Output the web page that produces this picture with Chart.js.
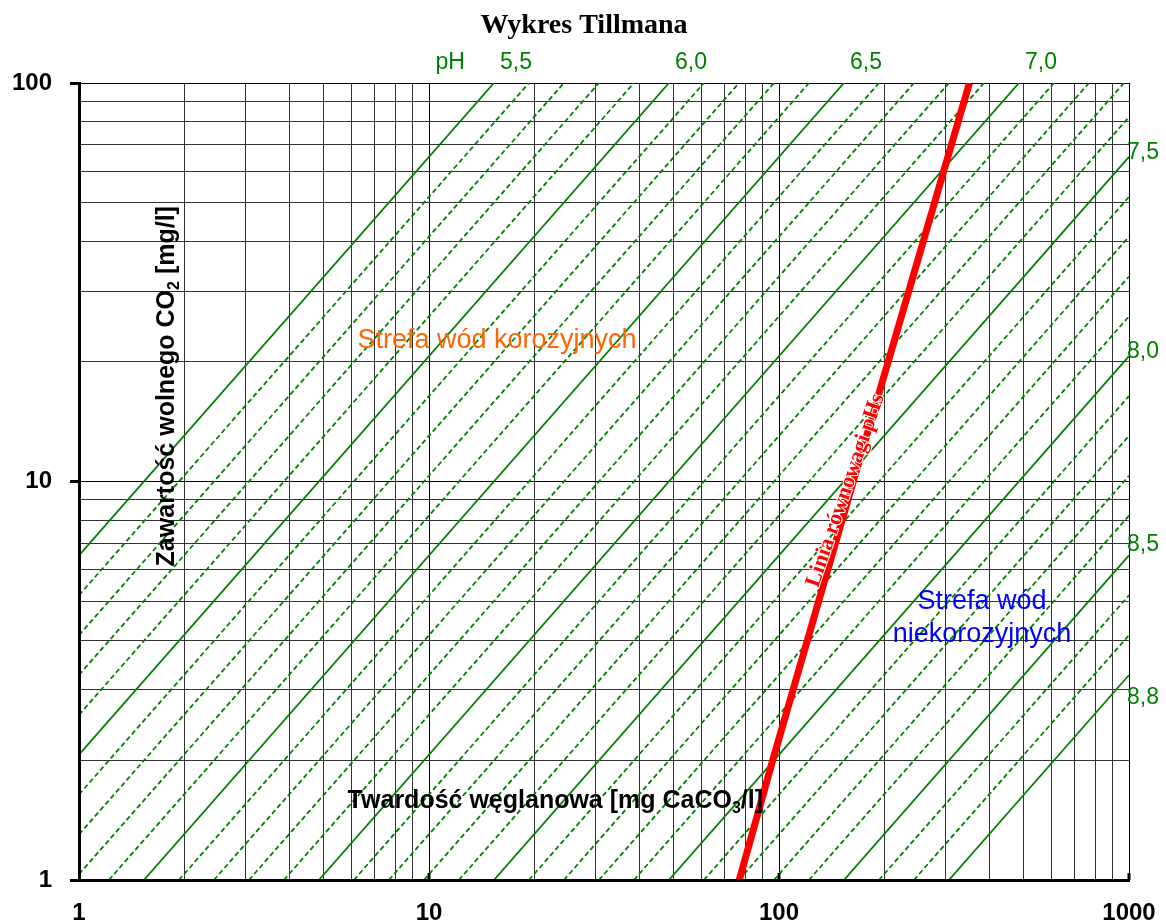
<!DOCTYPE html>
<html>
<head>
<meta charset="utf-8">
<script src="https://cdn.jsdelivr.net/npm/chart.js@4.4.1/dist/chart.umd.min.js"></script>
<style>
  html, body { margin: 0; padding: 0; background: #fff; }
  #wrap { width: 1166px; height: 921px; }
</style>
</head>
<body>
<div id="wrap"><canvas id="chart" width="1166" height="921"></canvas></div>
<script>
// Tillmans diagram: free CO2 against carbonate hardness on log-log axes.

// Axis ranges
const X_RANGE = [1, 1000];   // carbonate hardness, mg CaCO3/l
const Y_RANGE = [1, 100];    // free CO2, mg/l

// Grid lines and tick labels
const X_GRID = [1, 2, 3, 4, 5, 6, 7, 8, 9, 10, 20, 30, 40, 50, 60, 70, 80, 90,
                100, 200, 300, 400, 500, 600, 700, 800, 900, 1000];
const Y_GRID = [1, 2, 3, 4, 5, 6, 7, 8, 9, 10, 20, 30, 40, 50, 60, 70, 80, 90, 100];
const X_TICK_LABELS = ['1', '10', '100', '1000'];
const Y_TICK_LABELS = ['1', '10', '100'];

// pH isolines, every 0.1 pH unit; the labelled ones are drawn solid
const PH_VALUES = [5.5, 5.6, 5.7, 5.8, 5.9, 6.0, 6.1, 6.2, 6.3, 6.4,
                   6.5, 6.6, 6.7, 6.8, 6.9, 7.0, 7.1, 7.2, 7.3, 7.4,
                   7.5, 7.6, 7.7, 7.8, 7.9, 8.0, 8.1, 8.2, 8.3, 8.4,
                   8.5, 8.6, 8.7, 8.8];
const PH_SOLID = [5.5, 6.0, 6.5, 7.0, 7.5, 8.0, 8.5, 8.8];
const PH_TOP_LABELS = ['5,5', '6,0', '6,5', '7,0'];
const PH_RIGHT_LABELS = ['7,5', '8,0', '8,5', '8,8'];

// Carbonic acid: pH = pK1 + log([HCO3-]/[CO2]); hardness as CaCO3 (50 mg/mmol HCO3-), CO2 44 mg/mmol
const PK1 = 6.37;
const UNIT_FACTOR = 44 / 50;

// Lime-carbonic acid equilibrium line (pHs)
const EQ_HARDNESS = [77, 96, 163, 350];
const EQ_CO2 = [1, 2, 10, 100];

// Text annotations, anchored in data coordinates
const TITLE = 'Wykres Tillmana';
const NOTES = [
  { lines: ['Strefa wód korozyjnych'], x: 15.64, y: 22.6, color: '#FF6600' },
  { lines: ['Strefa wód', 'niekorozyjnych'], x: 380, y: 4.55, color: '#0000FF' }
];
const X_TITLE = [{ t: 'Twardość węglanowa [mg CaCO' }, { t: '3', sub: true }, { t: '/l]' }];
const Y_TITLE = [{ t: 'Zawartość wolnego CO' }, { t: '2', sub: true }, { t: ' [mg/l]' }];
const EQ_LABEL = 'Linia równowagi pHs';

const SANS = '"Liberation Sans", Arial, sans-serif';
const SERIF = '"Liberation Serif", "Times New Roman", serif';
const GREEN = '#008000';

const isDecade = v => Math.abs(Math.log10(v) - Math.round(Math.log10(v))) < 1e-9;

// one straight segment per pH value, clipped to the axis ranges
function isoline(pH) {
  const c = Math.log10(UNIT_FACTOR) + PK1 - pH;   // log CO2 = log H + c
  const lx0 = Math.max(Math.log10(X_RANGE[0]), Math.log10(Y_RANGE[0]) - c);
  const lx1 = Math.min(Math.log10(X_RANGE[1]), Math.log10(Y_RANGE[1]) - c);
  return [
    { x: Math.pow(10, lx0), y: Math.pow(10, lx0 + c) },
    { x: Math.pow(10, lx1), y: Math.pow(10, lx1 + c) }
  ];
}

const datasets = [{
  label: 'pHs',
  data: EQ_HARDNESS.map((h, i) => ({ x: h, y: EQ_CO2[i] })),
  borderColor: '#FF0000',
  borderWidth: 7,
  showLine: true,
  pointRadius: 0
}];
PH_VALUES.forEach(pH => {
  const solid = PH_SOLID.some(s => Math.abs(s - pH) < 1e-9);
  datasets.push({
    label: 'pH ' + pH.toFixed(1),
    data: isoline(pH),
    borderColor: GREEN,
    borderWidth: 1.8,
    borderDash: solid ? [] : [5, 3],
    showLine: true,
    pointRadius: 0
  });
});

// text with subscripts, centred at (x, y)
function drawRich(ctx, parts, x, y, size, bold, color) {
  const w = bold ? 'bold ' : '';
  const fMain = w + size + 'px ' + SANS;
  const fSub = w + Math.round(size * 0.65) + 'px ' + SANS;
  let total = 0;
  parts.forEach(p => { ctx.font = p.sub ? fSub : fMain; total += ctx.measureText(p.t).width; });
  let cx = x - total / 2;
  ctx.fillStyle = color;
  ctx.textAlign = 'left';
  ctx.textBaseline = 'middle';
  parts.forEach(p => {
    ctx.font = p.sub ? fSub : fMain;
    ctx.fillText(p.t, cx, p.sub ? y + size * 0.3 : y);
    cx += ctx.measureText(p.t).width;
  });
}

const annotations = {
  id: 'annotations',
  afterDraw(chart) {
    const { ctx, scales: { x: xs, y: ys }, chartArea: area } = chart;
    ctx.save();

    // inward tick marks on the hardness axis
    ctx.strokeStyle = '#000';
    ctx.lineWidth = 3;
    X_TICK_LABELS.slice(1).forEach(l => {
      const px = xs.getPixelForValue(Number(l));
      ctx.beginPath();
      ctx.moveTo(px, area.bottom);
      ctx.lineTo(px, area.bottom - 7);
      ctx.stroke();
    });

    // title
    ctx.fillStyle = '#000';
    ctx.font = 'bold 28px ' + SERIF;
    ctx.textAlign = 'center';
    ctx.textBaseline = 'middle';
    ctx.fillText(TITLE, 584, 26);

    // pH labels along the top edge, just right of where each line leaves
    ctx.fillStyle = GREEN;
    ctx.font = '23px ' + SANS;
    const topY = ys.getPixelForValue(112.5);
    ctx.fillText('pH', xs.getPixelForValue(11.5), topY);
    PH_TOP_LABELS.forEach(l => {
      const pH = parseFloat(l.replace(',', '.'));
      const seg = isoline(pH);
      ctx.fillText(l, xs.getPixelForValue(seg[1].x) + 22, topY);
    });

    // pH labels on the right edge
    ctx.textAlign = 'left';
    const rightY = [66.9, 21.2, 6.94, 2.86];
    PH_RIGHT_LABELS.forEach((l, i) => {
      ctx.fillText(l, area.right - 2, ys.getPixelForValue(rightY[i]));
    });

    // zone notes
    ctx.font = '27px ' + SANS;
    ctx.textAlign = 'center';
    NOTES.forEach(n => {
      ctx.fillStyle = n.color;
      const px = xs.getPixelForValue(n.x), py = ys.getPixelForValue(n.y);
      const lh = 33;
      n.lines.forEach((t, i) => {
        ctx.fillText(t, px, py + (i - (n.lines.length - 1) / 2) * lh);
      });
    });

    // axis titles inside the plot
    drawRich(ctx, X_TITLE, xs.getPixelForValue(22.96), ys.getPixelForValue(1.579), 25, true, '#000');
    ctx.save();
    ctx.translate(xs.getPixelForValue(1.78), ys.getPixelForValue(17.34));
    ctx.rotate(-Math.PI / 2);
    drawRich(ctx, Y_TITLE, 0, 0, 25, true, '#000');
    ctx.restore();

    // equilibrium line label
    ctx.save();
    ctx.translate(xs.getPixelForValue(155), ys.getPixelForValue(9.5));
    ctx.rotate(-71 * Math.PI / 180);
    ctx.font = 'bold 22px ' + SERIF;
    ctx.textAlign = 'center';
    ctx.textBaseline = 'middle';
    ctx.lineJoin = 'round';
    ctx.strokeStyle = '#fff';
    ctx.lineWidth = 2;
    ctx.strokeText(EQ_LABEL, 0, 0);
    ctx.fillStyle = '#FF0000';
    ctx.fillText(EQ_LABEL, 0, 0);
    ctx.restore();

    ctx.restore();
  }
};

const gridColor = c => (c.tick && isDecade(c.tick.value)) ? '#000' : '#333';

new Chart(document.getElementById('chart'), {
  type: 'scatter',
  data: { datasets },
  options: {
    responsive: false,
    animation: false,
    events: [],
    layout: { padding: { top: 83, right: 37, left: 0, bottom: 0 } },
    plugins: { legend: { display: false }, tooltip: { enabled: false }, title: { display: false } },
    scales: {
      x: {
        type: 'logarithmic',
        position: 'bottom',
        min: X_RANGE[0],
        max: X_RANGE[1],
        afterBuildTicks: s => { s.ticks = X_GRID.map(v => ({ value: v })); },
        afterFit: s => { s.height = 41; s.paddingLeft = 0; s.paddingRight = 0; },
        ticks: {
          autoSkip: false,
          maxRotation: 0,
          padding: 19,
          color: '#000',
          font: { family: SANS, size: 24, weight: 'bold' },
          callback: v => X_TICK_LABELS.includes(String(v)) ? String(v) : ''
        },
        grid: { color: gridColor, lineWidth: 1, drawTicks: false },
        border: { display: true, color: '#000', width: 3, z: 1 }
      },
      y: {
        type: 'logarithmic',
        position: 'left',
        min: Y_RANGE[0],
        max: Y_RANGE[1],
        afterBuildTicks: s => { s.ticks = Y_GRID.map(v => ({ value: v })); },
        afterFit: s => { s.width = 79; s.paddingTop = 0; s.paddingBottom = 0; },
        ticks: {
          autoSkip: false,
          padding: 18,
          color: '#000',
          font: { family: SANS, size: 24, weight: 'bold' },
          callback: v => Y_TICK_LABELS.includes(String(v)) ? String(v) : ''
        },
        grid: {
          color: gridColor,
          lineWidth: 1,
          drawTicks: true,
          tickLength: 9,
          tickWidth: 3,
          tickColor: c => (c.tick && isDecade(c.tick.value)) ? '#000' : 'rgba(0,0,0,0)'
        },
        border: { display: true, color: '#000', width: 3, z: 1 }
      }
    }
  },
  plugins: [annotations]
});
</script>
</body>
</html>
